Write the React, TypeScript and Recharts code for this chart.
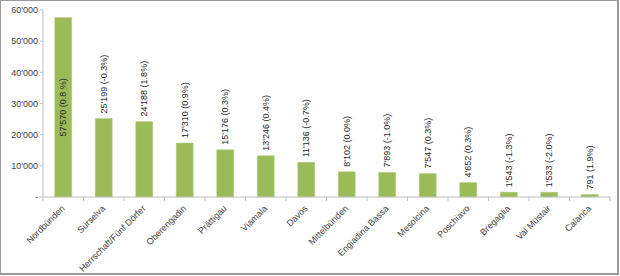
import React from 'react';
import { BarChart, Bar, XAxis, YAxis, LabelList } from 'recharts';

const categories = [
  'Nordbünden', 'Surselva', 'Herrschaft/Fünf Dörfer', 'Oberengadin', 'Prättigau', 'Viamala', 'Davos',
  'Mittelbünden', 'Engiadina Bassa', 'Mesolcina', 'Poschiavo', 'Bregaglia', 'Val Müstair', 'Calanca',
];
const values = [57570, 25199, 24188, 17310, 15176, 13246, 11136, 8102, 7893, 7547, 4652, 1543, 1533, 791];
const changes = ['0.8 %', '-0.3%', '1.8%', '0.9%', '0.3%', '0.4%', '-0.7%', '0.0%', '-1.0%', '0.3%', '0.3%', '-1.3%', '-2.0%', '1.9%'];
const yTicks = [0, 10000, 20000, 30000, 40000, 50000, 60000];

const fmt = (v: number) => {
  if (v === 0) return '-';
  return String(v).replace(/\B(?=(\d{3})+(?!\d))/g, "'");
};

const data = categories.map((c, i) => ({ name: c, value: values[i], label: `${fmt(values[i])} (${changes[i]})` }));

const W = 620;
const H = 276;
const LEFT = 43;
const RIGHT = 10;
const BAND = (W - LEFT - RIGHT) / categories.length;
const FONT = 'Liberation Sans, Arial, sans-serif';

const XTick = (props: any) => {
  const { x, y, payload, index } = props;
  return (
    <g>
      <line x1={x - BAND / 2} y1={y - 8} x2={x - BAND / 2} y2={y - 4} stroke="#bfbfbf" />
      {index === categories.length - 1 && (
        <line x1={x + BAND / 2} y1={y - 8} x2={x + BAND / 2} y2={y - 4} stroke="#bfbfbf" />
      )}
      <text
        x={x + 2}
        y={y + 4}
        textAnchor="end"
        fontSize={9}
        fontFamily={FONT}
        fill="#404040"
        transform={`rotate(-45, ${x + 2}, ${y + 4})`}
      >
        {payload.value}
      </text>
    </g>
  );
};

const ValueLabel = (props: any) => {
  const { x, y, width, height, index } = props;
  const text = data[index].label;
  const cx = x + width / 2;
  if (index === 0) {
    const cy = y + height / 2;
    return (
      <text x={cx} y={cy} textAnchor="middle" dominantBaseline="central" fontSize={9} fontFamily={FONT}
        fill="#262626" transform={`rotate(-90, ${cx}, ${cy})`}>
        {text}
      </text>
    );
  }
  const ty = y - 5;
  return (
    <text x={cx} y={ty} textAnchor="start" dominantBaseline="central" fontSize={9} fontFamily={FONT}
      fill="#262626" transform={`rotate(-90, ${cx}, ${ty})`}>
      {text}
    </text>
  );
};

export default function App() {
  return (
    <div style={{ position: 'absolute', left: 0, top: 0, width: W, height: H, background: '#fff' }}>
      <div style={{ position: 'absolute', left: 0, top: 0, width: W - 1, height: H - 1, boxSizing: 'border-box', border: '1px solid #9a9a9a', borderRightWidth: 2, borderBottomWidth: 2, pointerEvents: 'none', zIndex: 2 }} />
      <BarChart width={W} height={H} data={data} margin={{ top: 10, right: RIGHT, bottom: 0, left: 0 }} barCategoryGap="29%">
        <XAxis
          dataKey="name"
          interval={0}
          height={79}
          axisLine={{ stroke: '#bfbfbf' }}
          tickLine={false}
          tick={<XTick />}
        />
        <YAxis
          width={LEFT}
          domain={[0, 60000]}
          ticks={yTicks}
          tickFormatter={fmt}
          axisLine={{ stroke: '#bfbfbf' }}
          tickLine={{ stroke: '#bfbfbf' }}
          tickSize={3}
          tick={{ fontSize: 9, fontFamily: FONT, fill: '#404040' }}
        />
        <Bar dataKey="value" fill="#9bbb59" stroke="#b5cf85" strokeWidth={0.5} isAnimationActive={false}>
          <LabelList dataKey="label" content={<ValueLabel />} />
        </Bar>
      </BarChart>
    </div>
  );
}
